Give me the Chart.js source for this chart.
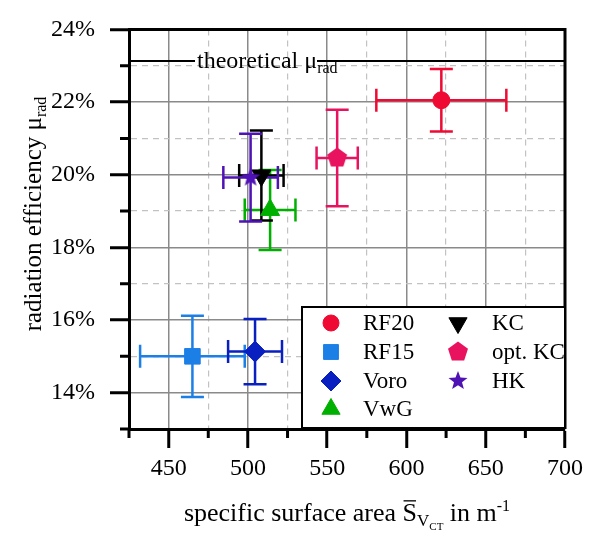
<!DOCTYPE html>
<html>
<head>
<meta charset="utf-8">
<script src="https://cdn.jsdelivr.net/npm/chart.js@4.4.0/dist/chart.umd.min.js"></script>
<style>
  html, body { margin: 0; padding: 0; background: #fff; }
</style>
</head>
<body>
<canvas id="chart" width="589" height="534"></canvas>
<script>
// ---- data ----
const seriesNames = ['RF20', 'RF15', 'Voro', 'VwG', 'KC', 'opt. KC', 'HK'];
const surfaceArea = [622, 465, 504.5, 514, 508.5, 556.3, 501.7];   // m^-1
const surfaceErr  = [41, 33, 17, 16, 14, 13, 17.2];
const radEff      = [22.05, 15.0, 15.13, 19.03, 19.98, 20.46, 19.92]; // %
const radErr      = [0.86, 1.12, 0.9, 1.1, 1.24, 1.33, 1.21];
const seriesColors = ['#ee0a33', '#1b7fe6', '#0a1fbf', '#00b000', '#000000', '#e8125f', '#4f12b5'];
const theoreticalMu = 23.13;
const xRange = [425, 700];
const yRange = [13, 24];

const FONT = "'Liberation Serif', 'Times New Roman', serif";

// custom markers for pentagon and filled star
function makeMarker(size, color, pts) {
    const cv = document.createElement('canvas');
    cv.width = size; cv.height = size;
    const g = cv.getContext('2d');
    g.fillStyle = color;
    g.beginPath();
    pts.forEach((p, i) => i ? g.lineTo(size / 2 + p[0], size / 2 + p[1]) : g.moveTo(size / 2 + p[0], size / 2 + p[1]));
    g.closePath();
    g.fill();
    return cv;
}
function polyPoints(n, rOuter, rInner) {
    const pts = [];
    const count = rInner ? n * 2 : n;
    for (let i = 0; i < count; i++) {
        const r = rInner && i % 2 ? rInner : rOuter;
        const a = -Math.PI / 2 + i * 2 * Math.PI / count;
        pts.push([Math.cos(a) * r, Math.sin(a) * r]);
    }
    return pts;
}
const pentagon = makeMarker(24, seriesColors[5], polyPoints(5, 10.5));
const star = makeMarker(24, seriesColors[6], polyPoints(5, 10, 4.2));

const pointStyles = ['circle', 'rect', 'rectRot', 'triangle', 'triangle', pentagon, star];
const pointRadii  = [8.5, 11, 10.5, 11, 11, 10, 10];
const pointRot    = [0, 0, 0, 0, 180, 0, 0];

const datasets = seriesNames.map((name, i) => ({
    label: name,
    data: [{ x: surfaceArea[i], y: radEff[i], xErr: surfaceErr[i], yErr: radErr[i] }],
    pointStyle: pointStyles[i],
    pointRadius: pointRadii[i],
    pointRotation: pointRot[i],
    backgroundColor: seriesColors[i],
    borderColor: seriesColors[i],
    pointBorderWidth: 1,
    order: -i
}));
datasets.push({
    label: 'theoretical',
    data: [{ x: xRange[0], y: theoreticalMu }, { x: xRange[1], y: theoreticalMu }],
    showLine: true,
    borderColor: '#000',
    borderWidth: 2,
    pointRadius: 0,
    order: 10
});

const isMajorX = v => v % 50 === 0;
const isMajorY = v => v % 2 === 0;

// error bars, drawn below the markers
const errorBars = {
    id: 'errorBars',
    beforeDatasetsDraw(chart) {
        const { ctx, scales: { x, y } } = chart;
        const cap = 11.5;
        ctx.save();
        ctx.lineWidth = 2.5;
        chart.data.datasets.forEach(ds => {
            ds.data.forEach(p => {
                if (p.xErr === undefined) return;
                const cx = x.getPixelForValue(p.x), cy = y.getPixelForValue(p.y);
                const x0 = x.getPixelForValue(p.x - p.xErr), x1 = x.getPixelForValue(p.x + p.xErr);
                const y0 = y.getPixelForValue(p.y - p.yErr), y1 = y.getPixelForValue(p.y + p.yErr);
                ctx.strokeStyle = ds.borderColor;
                ctx.beginPath();
                ctx.moveTo(x0, cy); ctx.lineTo(x1, cy);
                ctx.moveTo(x0, cy - cap); ctx.lineTo(x0, cy + cap);
                ctx.moveTo(x1, cy - cap); ctx.lineTo(x1, cy + cap);
                ctx.moveTo(cx, y0); ctx.lineTo(cx, y1);
                ctx.moveTo(cx - cap, y0); ctx.lineTo(cx + cap, y0);
                ctx.moveTo(cx - cap, y1); ctx.lineTo(cx + cap, y1);
                ctx.stroke();
            });
        });
        ctx.restore();
    }
};

// text pieces with sub/superscripts
function richWidth(ctx, parts) {
    return parts.reduce((w, p) => {
        ctx.font = p.size + 'px ' + FONT;
        return w + ctx.measureText(p.text).width;
    }, 0);
}
function drawRich(ctx, parts, x, y) {
    let cx = x;
    parts.forEach(p => {
        ctx.font = p.size + 'px ' + FONT;
        const w = ctx.measureText(p.text).width;
        ctx.fillText(p.text, cx, y + (p.dy || 0));
        if (p.overline) {
            ctx.fillRect(cx + 1, y - p.size * 0.8, w - 2, 1.3);
        }
        cx += w;
    });
}

const decorations = {
    id: 'decorations',
    afterDatasetsDraw(chart) {
        const { ctx, scales: { y } } = chart;
        // label on the theoretical line
        const ly = y.getPixelForValue(theoreticalMu);
        ctx.save();
        ctx.fillStyle = '#fff';
        ctx.fillRect(195, ly - 3, 122, 6);
        ctx.fillStyle = '#000';
        ctx.textBaseline = 'alphabetic';
        drawRich(ctx, [
            { text: 'theoretical μ', size: 24 },
            { text: 'rad', size: 16, dy: 5 }
        ], 197, ly + 7);
        ctx.restore();
    },
    afterDraw(chart) {
        const { ctx, chartArea: a, scales: { x, y } } = chart;
        ctx.save();
        // top and right frame
        ctx.strokeStyle = '#000';
        ctx.lineWidth = 3;
        ctx.beginPath();
        ctx.moveTo(a.left, a.top); ctx.lineTo(a.right, a.top); ctx.lineTo(a.right, a.bottom);
        ctx.stroke();
        // short minor ticks
        ctx.beginPath();
        x.ticks.forEach(t => {
            if (isMajorX(t.value)) return;
            const px = x.getPixelForValue(t.value);
            ctx.moveTo(px, a.bottom); ctx.lineTo(px, a.bottom + 9);
        });
        y.ticks.forEach(t => {
            if (isMajorY(t.value)) return;
            const py = y.getPixelForValue(t.value);
            ctx.moveTo(a.left - 9, py); ctx.lineTo(a.left, py);
        });
        ctx.stroke();

        // axis titles
        ctx.fillStyle = '#000';
        ctx.textBaseline = 'alphabetic';
        const xt = [
            { text: 'specific surface area ', size: 26 },
            { text: 'S', size: 26, overline: true },
            { text: 'V', size: 17, dy: 5 },
            { text: 'CT', size: 11, dy: 9 },
            { text: ' in m', size: 26 },
            { text: '-1', size: 16, dy: -10 }
        ];
        drawRich(ctx, xt, (a.left + a.right) / 2 - richWidth(ctx, xt) / 2, 521);
        const yt = [
            { text: 'radiation efficiency μ', size: 25 },
            { text: 'rad', size: 16, dy: 5 }
        ];
        ctx.translate(41, 214);
        ctx.rotate(-Math.PI / 2);
        drawRich(ctx, yt, -richWidth(ctx, yt) / 2, 0);
        ctx.restore();

        // legend box, two columns
        ctx.save();
        const box = { left: 302, top: 307, right: a.right, bottom: a.bottom - 1 };
        ctx.fillStyle = '#fff';
        ctx.fillRect(box.left, box.top, box.right - box.left, box.bottom - box.top);
        ctx.strokeStyle = '#000';
        ctx.lineWidth = 2;
        ctx.strokeRect(box.left, box.top, box.right - box.left, box.bottom - box.top);
        const cols = [{ mx: 331, tx: 363 }, { mx: 458, tx: 492 }];
        const rowY = [323, 352, 381, 409];
        ctx.textBaseline = 'middle';
        seriesNames.forEach((name, i) => {
            const col = cols[i < 4 ? 0 : 1];
            const ry = rowY[i < 4 ? i : i - 4];
            ctx.fillStyle = seriesColors[i];
            ctx.strokeStyle = seriesColors[i];
            ctx.lineWidth = 1;
            Chart.helpers.drawPoint(ctx, {
                pointStyle: pointStyles[i],
                radius: pointRadii[i] - 0.5,
                rotation: pointRot[i],
                borderWidth: 1
            }, col.mx, ry);
            ctx.fillStyle = '#000';
            ctx.font = '23px ' + FONT;
            ctx.fillText(name, col.tx, ry + 1);
        });
        ctx.restore();
    }
};

function gridOpts(isMajor) {
    return {
        color: c => c.tick && isMajor(c.tick.value) ? '#8a8a8a' : '#c2c2c2',
        lineWidth: c => c.tick && isMajor(c.tick.value) ? 1.5 : 1.2,
        tickColor: c => c.tick && isMajor(c.tick.value) ? '#000' : 'rgba(0,0,0,0)',
        tickWidth: 3,
        tickLength: 19
    };
}
function borderOpts(isMajor) {
    return {
        color: '#000',
        width: 3,
        dash: c => c.tick && !isMajor(c.tick.value) ? [6, 5] : []
    };
}

new Chart(document.getElementById('chart'), {
    type: 'scatter',
    data: { datasets },
    options: {
        responsive: false,
        animation: false,
        devicePixelRatio: 1,
        layout: { padding: { top: 18, right: 20, left: 0, bottom: 0 } },
        plugins: { legend: { display: false }, tooltip: { enabled: false } },
        scales: {
            x: {
                type: 'linear',
                min: xRange[0],
                max: xRange[1],
                afterFit: s => { s.height = 105; },
                ticks: {
                    stepSize: 25,
                    autoSkip: false,
                    maxRotation: 0,
                    padding: 6,
                    color: '#000',
                    font: { family: FONT, size: 24 },
                    callback: v => isMajorX(v) ? String(v) : ''
                },
                grid: gridOpts(isMajorX),
                border: borderOpts(isMajorX)
            },
            y: {
                type: 'linear',
                min: yRange[0],
                max: yRange[1],
                afterFit: s => { s.width = 129; },
                ticks: {
                    stepSize: 1,
                    autoSkip: false,
                    padding: 15,
                    color: '#000',
                    font: { family: FONT, size: 24 },
                    callback: v => isMajorY(v) ? v + '%' : ''
                },
                grid: gridOpts(isMajorY),
                border: borderOpts(isMajorY)
            }
        }
    },
    plugins: [errorBars, decorations]
});
</script>
</body>
</html>
